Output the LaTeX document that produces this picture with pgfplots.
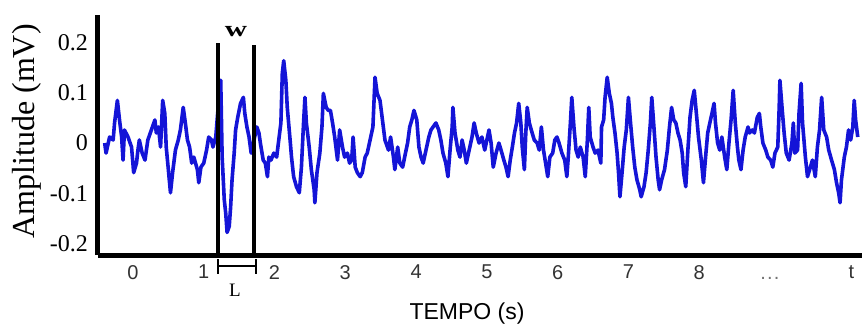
\documentclass[border=0pt]{standalone}
\usepackage{pgfplots}
\pgfplotsset{compat=1.18}
\usepackage{fontspec}
\setmainfont{Liberation Serif}
\newfontfamily\arial{Liberation Sans}
\definecolor{sig}{RGB}{20,20,215}
\begin{document}
\begin{tikzpicture}
\path[use as bounding box] (-49pt,-37pt) rectangle (382pt,127.5pt);
\begin{axis}[
 at={(0,0)}, anchor=south west,
 scale only axis, width=382pt, height=120pt,
 xmin=-0.494, xmax=10.30, ymin=-0.223, ymax=0.255,
 axis x line*=bottom, axis y line*=left,
 axis line style={line width=2.5pt, black, -},
 major tick length=0pt,
 xtick={0,1,2,3,4,5,6,7,8,9,10.15},
 xticklabels={0,1,2,3,4,5,6,7,8,{\vphantom{0}\textcolor{black!55}{.\kern0.6pt.\kern0.6pt.}},{t}},
 ytick={-0.2,-0.1,0,0.1,0.2},
 yticklabels={-0.2,-0.1,0,0.1,0.2},
 xticklabel style={font=\arial\fontsize{10}{12}\selectfont, yshift=-1.5pt, text=black!80},
 yticklabel style={font=\fontsize{12}{14}\selectfont, xshift=-1.5pt},
 xlabel={TEMPO (s)}, ylabel={Amplitude (mV)},
 xlabel style={at={(axis description cs:0.483,-0.242)}, anchor=center, font=\arial\fontsize{11.5}{13}\selectfont},
 ylabel style={at={(axis description cs:-0.093,0.515)}, anchor=center, font=\fontsize{16}{18}\selectfont},
 clip=false,
]
\addplot[sig, line width=1.8pt, line join=round] coordinates {
(-0.40,0.000) (-0.38,-0.020) (-0.33,0.012) (-0.28,0.006) (-0.26,0.040) (-0.22,0.085) (-0.19,0.046) (-0.16,0.012) (-0.14,-0.034) (-0.12,0.026)
(-0.07,0.012) (-0.02,-0.008) (0.01,-0.059) (0.05,-0.040) (0.07,-0.014) (0.09,0.006) (0.13,-0.020) (0.17,-0.034) (0.21,0.006) (0.26,0.026)
(0.31,0.046) (0.33,0.020) (0.36,0.032) (0.39,-0.008) (0.42,0.085) (0.45,0.059) (0.47,-0.008) (0.50,-0.053) (0.53,-0.099) (0.56,-0.059)
(0.60,-0.014) (0.64,0.006) (0.67,0.026) (0.71,0.071) (0.74,0.040) (0.77,0.006) (0.80,-0.008) (0.83,-0.040)
(0.86,-0.028) (0.91,-0.053) (0.93,-0.079) (0.96,-0.048) (1.00,-0.040) (1.04,-0.014) (1.07,0.012) (1.11,0.006) (1.13,-0.008) (1.17,0.012)
(1.20,0.065) (1.24,0.125) (1.26,-0.028) (1.29,-0.113) (1.31,-0.139) (1.33,-0.178) (1.36,-0.166) (1.38,-0.127) (1.40,-0.073) (1.43,-0.020)
(1.45,0.026) (1.48,0.051) (1.52,0.079) (1.56,0.091) (1.58,0.059) (1.61,0.032) (1.64,0.012) (1.67,-0.020) (1.71,0.006) (1.75,0.032)
(1.78,0.020) (1.80,0.000) (1.84,-0.034) (1.87,-0.040) (1.90,-0.067) (1.92,-0.028) (1.95,-0.034) (1.99,-0.020) (2.03,-0.028) (2.06,0.006)
(2.09,0.040) (2.11,0.139) (2.13,0.164) (2.16,0.125) (2.18,0.071) (2.22,0.006)
(2.24,-0.028) (2.27,-0.067) (2.31,-0.087) (2.35,-0.099) (2.38,-0.048) (2.41,0.040) (2.43,0.091) (2.45,0.040) (2.49,-0.008) (2.52,-0.053)
(2.56,-0.093) (2.57,-0.119) (2.60,-0.059) (2.64,-0.020) (2.67,0.032) (2.69,0.099) (2.73,0.071) (2.76,0.065) (2.79,0.065) (2.82,0.040)
(2.85,0.012) (2.89,-0.034) (2.92,0.026) (2.96,-0.008) (2.99,-0.028) (3.03,-0.020) (3.06,-0.040) (3.09,-0.034) (3.11,0.012) (3.14,-0.048)
(3.17,-0.059) (3.21,-0.067) (3.24,-0.059) (3.28,-0.028) (3.31,-0.020) (3.35,0.006) (3.39,0.032) (3.42,0.131) (3.45,0.099) (3.49,0.085)
(3.53,0.040) (3.56,0.006)
(3.61,-0.014) (3.64,0.012) (3.68,-0.028) (3.70,-0.053) (3.74,-0.008) (3.77,-0.040) (3.81,-0.048) (3.85,-0.020) (3.88,0.000) (3.91,0.032)
(3.94,0.046) (3.97,0.065) (4.01,0.046) (4.04,-0.008) (4.07,-0.028) (4.10,-0.040) (4.14,-0.014) (4.18,0.012) (4.21,0.026) (4.24,0.032)
(4.28,0.040) (4.32,0.026) (4.35,0.006) (4.38,-0.020) (4.42,-0.040) (4.45,-0.067) (4.48,-0.014) (4.51,0.032) (4.52,0.071) (4.55,0.020)
(4.59,-0.014) (4.62,-0.028) (4.65,0.006) (4.68,-0.014) (4.71,-0.040) (4.75,-0.014) (4.79,0.012) (4.82,0.040) (4.85,0.020) (4.89,0.000)
(4.93,0.012) (4.97,-0.014) (5.00,0.006) (5.03,0.026) (5.06,0.000) (5.09,-0.048) (5.13,-0.020) (5.17,0.000) (5.20,-0.014) (5.24,-0.034)
(5.27,-0.048) (5.30,-0.067) (5.33,-0.034) (5.36,-0.008) (5.39,0.020) (5.42,0.040) (5.45,0.079) (5.48,0.040) (5.50,-0.008) (5.53,-0.053)
(5.55,0.020) (5.57,0.071) (5.60,0.040) (5.64,0.020) (5.67,0.006) (5.71,0.000) (5.74,-0.014) (5.77,0.032) (5.80,-0.014) (5.83,-0.040)
(5.86,-0.067) (5.89,-0.028) (5.93,-0.020) (5.96,0.006) (5.99,0.012) (6.02,0.000) (6.06,-0.020) (6.10,-0.034) (6.13,-0.067) (6.15,-0.028)
(6.18,0.040) (6.20,0.091) (6.23,0.032) (6.26,-0.014) (6.29,-0.028)
(6.32,-0.008) (6.36,-0.028) (6.39,-0.067) (6.42,0.006) (6.44,0.071) (6.46,0.012) (6.50,-0.008) (6.53,-0.020) (6.57,-0.014) (6.61,-0.040)
(6.62,0.032) (6.65,0.046) (6.67,0.091) (6.70,0.131) (6.73,0.099) (6.76,0.079) (6.78,0.051) (6.81,0.020) (6.84,-0.020) (6.86,-0.059)
(6.88,-0.107) (6.91,-0.059) (6.94,-0.008) (6.97,0.026) (7.00,0.091) (7.03,0.040) (7.06,-0.008) (7.09,-0.048) (7.12,-0.073) (7.16,-0.093)
(7.18,-0.107) (7.22,-0.087) (7.25,-0.059) (7.28,-0.014) (7.31,0.040) (7.33,0.091) (7.36,0.032) (7.39,-0.028) (7.42,-0.073) (7.44,-0.093)
(7.47,-0.073) (7.51,-0.053) (7.55,-0.014) (7.58,0.032) (7.61,0.071) (7.64,0.046)
(7.67,0.040) (7.70,0.020) (7.73,0.006) (7.76,-0.020) (7.78,-0.059) (7.81,-0.087) (7.84,-0.014) (7.87,0.051) (7.90,0.085) (7.93,0.105)
(7.96,0.059) (7.99,0.012) (8.03,-0.034) (8.06,-0.079) (8.09,-0.028) (8.12,0.020) (8.15,0.040) (8.18,0.059) (8.21,0.079) (8.23,0.040)
(8.26,0.000) (8.29,-0.014) (8.32,0.012) (8.36,-0.028) (8.39,-0.053) (8.42,0.000) (8.45,0.046) (8.48,0.105) (8.51,0.040) (8.54,-0.008)
(8.56,-0.034) (8.59,-0.053) (8.62,-0.014) (8.65,0.012) (8.69,0.032) (8.71,0.020) (8.75,0.026) (8.78,0.020) (8.82,0.051) (8.85,0.059)
(8.87,0.032) (8.90,0.000) (8.94,-0.014) (8.97,-0.028)
(9.01,-0.034) (9.04,-0.048) (9.07,-0.020) (9.11,-0.008) (9.13,0.071) (9.14,0.125) (9.17,0.071) (9.20,0.020) (9.23,-0.020) (9.27,-0.034)
(9.31,0.000) (9.33,0.040) (9.35,-0.020) (9.39,-0.014) (9.41,0.059) (9.44,0.119) (9.46,0.040) (9.50,-0.028) (9.53,-0.067) (9.56,-0.053)
(9.60,-0.034) (9.64,-0.067) (9.67,-0.008) (9.70,0.026) (9.73,0.091) (9.76,0.026) (9.80,0.012) (9.83,-0.014) (9.87,-0.034) (9.91,-0.053)
(9.94,-0.079) (9.97,-0.099) (9.99,-0.119) (10.01,-0.073) (10.05,-0.028) (10.08,-0.008) (10.11,0.026) (10.14,0.006) (10.17,0.032) (10.19,0.085)
(10.21,0.046) (10.24,0.012)
};
\draw[line width=2.2pt] (axis cs:1.20,-0.223) -- (axis cs:1.20,0.200);
\draw[line width=2.2pt] (axis cs:1.71,-0.223) -- (axis cs:1.71,0.196);
\draw[line width=1.1pt] (axis cs:1.20,-0.245) -- (axis cs:1.735,-0.245);
\draw[line width=1.1pt] (axis cs:1.20,-0.231) -- (axis cs:1.20,-0.261);
\draw[line width=1.1pt] (axis cs:1.735,-0.231) -- (axis cs:1.735,-0.261);
\node[font=\bfseries\fontsize{11}{12}\selectfont, xscale=1.4] at (axis cs:1.455,0.223) {w};
\node[font=\fontsize{9.5}{10}\selectfont] at (axis cs:1.44,-0.293) {L};
\end{axis}
\end{tikzpicture}
\end{document}
